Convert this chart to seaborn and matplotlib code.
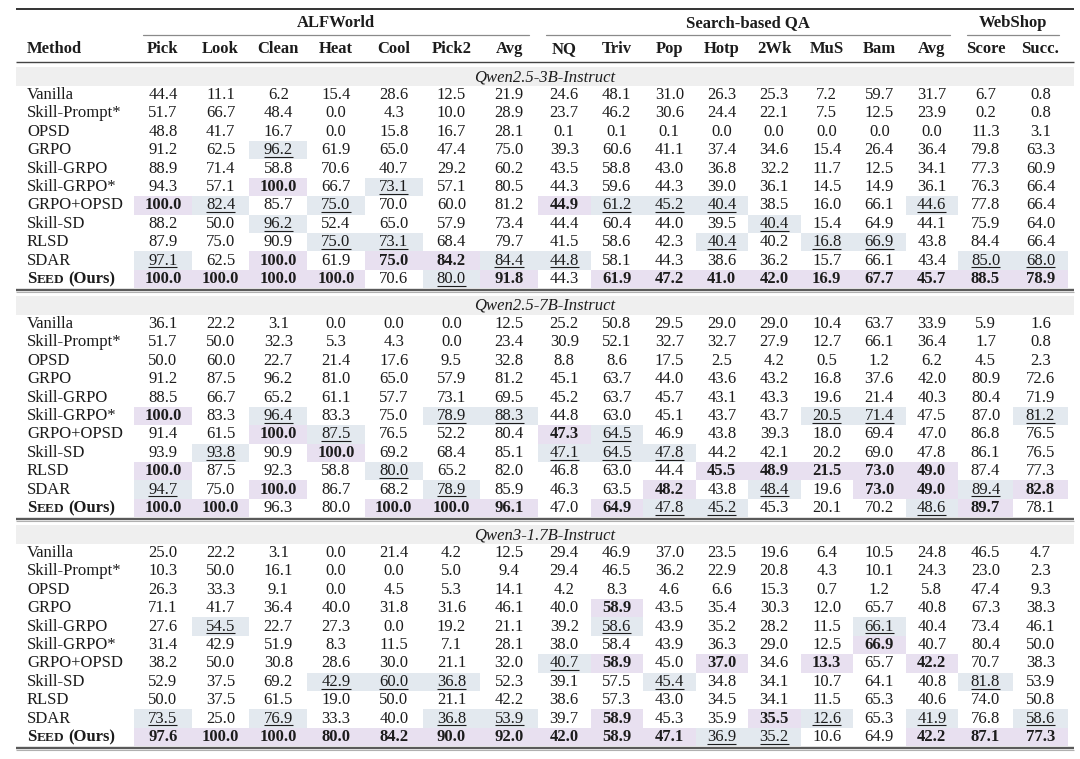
import numpy as np
import matplotlib
matplotlib.use("Agg")
import matplotlib.pyplot as plt
import matplotlib.transforms as mtransforms
from matplotlib.colors import ListedColormap
import seaborn as sns


# ──────────────────────────────────────────────
# Data
# ──────────────────────────────────────────────

methods = ["Vanilla", "Skill-Prompt*", "OPSD", "GRPO", "Skill-GRPO", "Skill-GRPO*",
           "GRPO+OPSD", "Skill-SD", "RLSD", "SDAR", "SEED (Ours)"]
group_names = ["ALFWorld", "Search-based QA", "WebShop"]
alf_cols = ["Pick", "Look", "Clean", "Heat", "Cool", "Pick2", "Avg"]
qa_cols = ["NQ", "Triv", "Pop", "Hotp", "2Wk", "MuS", "Bam", "Avg"]
shop_cols = ["Score", "Succ."]
models = ["Qwen2.5-3B-Instruct", "Qwen2.5-7B-Instruct", "Qwen3-1.7B-Instruct"]

qwen25_3b = [
    [44.4, 11.1, 6.2, 15.4, 28.6, 12.5, 21.9, 24.6, 48.1, 31.0, 26.3, 25.3, 7.2, 59.7, 31.7, 6.7, 0.8],
    [51.7, 66.7, 48.4, 0.0, 4.3, 10.0, 28.9, 23.7, 46.2, 30.6, 24.4, 22.1, 7.5, 12.5, 23.9, 0.2, 0.8],
    [48.8, 41.7, 16.7, 0.0, 15.8, 16.7, 28.1, 0.1, 0.1, 0.1, 0.0, 0.0, 0.0, 0.0, 0.0, 11.3, 3.1],
    [91.2, 62.5, 96.2, 61.9, 65.0, 47.4, 75.0, 39.3, 60.6, 41.1, 37.4, 34.6, 15.4, 26.4, 36.4, 79.8, 63.3],
    [88.9, 71.4, 58.8, 70.6, 40.7, 29.2, 60.2, 43.5, 58.8, 43.0, 36.8, 32.2, 11.7, 12.5, 34.1, 77.3, 60.9],
    [94.3, 57.1, 100.0, 66.7, 73.1, 57.1, 80.5, 44.3, 59.6, 44.3, 39.0, 36.1, 14.5, 14.9, 36.1, 76.3, 66.4],
    [100.0, 82.4, 85.7, 75.0, 70.0, 60.0, 81.2, 44.9, 61.2, 45.2, 40.4, 38.5, 16.0, 66.1, 44.6, 77.8, 66.4],
    [88.2, 50.0, 96.2, 52.4, 65.0, 57.9, 73.4, 44.4, 60.4, 44.0, 39.5, 40.4, 15.4, 64.9, 44.1, 75.9, 64.0],
    [87.9, 75.0, 90.9, 75.0, 73.1, 68.4, 79.7, 41.5, 58.6, 42.3, 40.4, 40.2, 16.8, 66.9, 43.8, 84.4, 66.4],
    [97.1, 62.5, 100.0, 61.9, 75.0, 84.2, 84.4, 44.8, 58.1, 44.3, 38.6, 36.2, 15.7, 66.1, 43.4, 85.0, 68.0],
    [100.0, 100.0, 100.0, 100.0, 70.6, 80.0, 91.8, 44.3, 61.9, 47.2, 41.0, 42.0, 16.9, 67.7, 45.7, 88.5, 78.9],
]
qwen25_7b = [
    [36.1, 22.2, 3.1, 0.0, 0.0, 0.0, 12.5, 25.2, 50.8, 29.5, 29.0, 29.0, 10.4, 63.7, 33.9, 5.9, 1.6],
    [51.7, 50.0, 32.3, 5.3, 4.3, 0.0, 23.4, 30.9, 52.1, 32.7, 32.7, 27.9, 12.7, 66.1, 36.4, 1.7, 0.8],
    [50.0, 60.0, 22.7, 21.4, 17.6, 9.5, 32.8, 8.8, 8.6, 17.5, 2.5, 4.2, 0.5, 1.2, 6.2, 4.5, 2.3],
    [91.2, 87.5, 96.2, 81.0, 65.0, 57.9, 81.2, 45.1, 63.7, 44.0, 43.6, 43.2, 16.8, 37.6, 42.0, 80.9, 72.6],
    [88.5, 66.7, 65.2, 61.1, 57.7, 73.1, 69.5, 45.2, 63.7, 45.7, 43.1, 43.3, 19.6, 21.4, 40.3, 80.4, 71.9],
    [100.0, 83.3, 96.4, 83.3, 75.0, 78.9, 88.3, 44.8, 63.0, 45.1, 43.7, 43.7, 20.5, 71.4, 47.5, 87.0, 81.2],
    [91.4, 61.5, 100.0, 87.5, 76.5, 52.2, 80.4, 47.3, 64.5, 46.9, 43.8, 39.3, 18.0, 69.4, 47.0, 86.8, 76.5],
    [93.9, 93.8, 90.9, 100.0, 69.2, 68.4, 85.1, 47.1, 64.5, 47.8, 44.2, 42.1, 20.2, 69.0, 47.8, 86.1, 76.5],
    [100.0, 87.5, 92.3, 58.8, 80.0, 65.2, 82.0, 46.8, 63.0, 44.4, 45.5, 48.9, 21.5, 73.0, 49.0, 87.4, 77.3],
    [94.7, 75.0, 100.0, 86.7, 68.2, 78.9, 85.9, 46.3, 63.5, 48.2, 43.8, 48.4, 19.6, 73.0, 49.0, 89.4, 82.8],
    [100.0, 100.0, 96.3, 80.0, 100.0, 100.0, 96.1, 47.0, 64.9, 47.8, 45.2, 45.3, 20.1, 70.2, 48.6, 89.7, 78.1],
]
qwen3_17b = [
    [25.0, 22.2, 3.1, 0.0, 21.4, 4.2, 12.5, 29.4, 46.9, 37.0, 23.5, 19.6, 6.4, 10.5, 24.8, 46.5, 4.7],
    [10.3, 50.0, 16.1, 0.0, 0.0, 5.0, 9.4, 29.4, 46.5, 36.2, 22.9, 20.8, 4.3, 10.1, 24.3, 23.0, 2.3],
    [26.3, 33.3, 9.1, 0.0, 4.5, 5.3, 14.1, 4.2, 8.3, 4.6, 6.6, 15.3, 0.7, 1.2, 5.8, 47.4, 9.3],
    [71.1, 41.7, 36.4, 40.0, 31.8, 31.6, 46.1, 40.0, 58.9, 43.5, 35.4, 30.3, 12.0, 65.7, 40.8, 67.3, 38.3],
    [27.6, 54.5, 22.7, 27.3, 0.0, 19.2, 21.1, 39.2, 58.6, 43.9, 35.2, 28.2, 11.5, 66.1, 40.4, 73.4, 46.1],
    [31.4, 42.9, 51.9, 8.3, 11.5, 7.1, 28.1, 38.0, 58.4, 43.9, 36.3, 29.0, 12.5, 66.9, 40.7, 80.4, 50.0],
    [38.2, 50.0, 30.8, 28.6, 30.0, 21.1, 32.0, 40.7, 58.9, 45.0, 37.0, 34.6, 13.3, 65.7, 42.2, 70.7, 38.3],
    [52.9, 37.5, 69.2, 42.9, 60.0, 36.8, 52.3, 39.1, 57.5, 45.4, 34.8, 34.1, 10.7, 64.1, 40.8, 81.8, 53.9],
    [50.0, 37.5, 61.5, 19.0, 50.0, 21.1, 42.2, 38.6, 57.3, 43.0, 34.5, 34.1, 11.5, 65.3, 40.6, 74.0, 50.8],
    [73.5, 25.0, 76.9, 33.3, 40.0, 36.8, 53.9, 39.7, 58.9, 45.3, 35.9, 35.5, 12.6, 65.3, 41.9, 76.8, 58.6],
    [97.6, 100.0, 100.0, 80.0, 84.2, 90.0, 92.0, 42.0, 58.9, 47.1, 36.9, 35.2, 10.6, 64.9, 42.2, 87.1, 77.3],
]

# b = best (bold, purple), s = second (underlined, blue); groups split by "|"
qwen25_3b_rank = [
    ".......|........|..", ".......|........|..", ".......|........|..",
    "..s....|........|..", ".......|........|..", "..b.s..|........|..",
    "bs.s...|bsss...s|..", "..s....|....s...|..", "...ss..|...s.ss.|..",
    "s.b.bbs|s.......|ss", "bbbb.sb|.bbbbbbb|bb",
]
qwen25_7b_rank = [
    ".......|........|..", ".......|........|..", ".......|........|..",
    ".......|........|..", ".......|........|..", "b.s..ss|.....ss.|.s",
    "..bs...|bs......|..", ".s.b...|sss.....|..", "b...s..|...bbbbb|..",
    "s.b..s.|..b.s.bb|sb", "bb..bbb|.bss...s|b.",
]
qwen3_17b_rank = [
    ".......|........|..", ".......|........|..", ".......|........|..",
    ".......|.b......|..", ".s.....|.s....s.|..", ".......|......b.|..",
    ".......|sb.b.b.b|..", "...sss.|..s.....|s.", ".......|........|..",
    "s.s..ss|.b..bs.s|.s", "bbbbbbb|bbbss..b|bb",
]

blocks = [qwen25_3b, qwen25_7b, qwen3_17b]
ranks = [qwen25_3b_rank, qwen25_7b_rank, qwen3_17b_rank]
group_cols = [alf_cols, qa_cols, shop_cols]


# ──────────────────────────────────────────────
# Layout / style
# ──────────────────────────────────────────────

sns.set_theme(style="white")
plt.rcParams["font.family"] = ["Liberation Serif", "DejaVu Serif"]

W, H = 1080, 759
FS = 12
TEXT = "#1c1c1c"
BEST = "#e8e0f0"
SECOND = "#e3e9ef"
BAND = "#efefef"
RULE = "#5a5a5a"
PITCH = 18.4
band_y = [77, 306, 535]
group_edges = [(134, 538), (538, 958), (958, 1068)]
LEFT, RIGHT = 16, 1074

fig = plt.figure(figsize=(W / 100, H / 100), dpi=100)
base = fig.add_axes([0, 0, 1, 1])
base.set_xlim(0, W)
base.set_ylim(H, 0)
base.set_axis_off()
renderer = fig.canvas.get_renderer()

cmap = ListedColormap(["white", SECOND, BEST])
code = {".": 0, "s": 1, "b": 2}

# rules of the table
base.hlines(9, LEFT, RIGHT, color="#333333", lw=1.4)
base.hlines(62, LEFT, RIGHT, color="#444444", lw=1.0)
base.text(27, 49, "Method", fontsize=FS, fontweight="bold", color=TEXT, ha="left", va="center")

underlines = []
start = 0
for g, cols in enumerate(group_cols):
    sl = slice(start, start + len(cols))
    start += len(cols)
    x0, x1 = group_edges[g]
    for k, block in enumerate(blocks):
        top = band_y[k] + 18 - PITCH / 2
        height = PITCH * len(methods)
        hax = fig.add_axes([x0 / W, 1 - (top + height) / H, (x1 - x0) / W, height / H])
        vals = np.array(block)[:, sl]
        rk = np.array([[code[c] for c in row.replace("|", "")] for row in ranks[k]])[:, sl]
        labels = np.vectorize(lambda v: f"{v:.1f}")(vals)
        sns.heatmap(rk, cmap=cmap, vmin=-0.5, vmax=2.5, annot=labels, fmt="",
                    cbar=False, xticklabels=False, yticklabels=False,
                    annot_kws=dict(fontsize=FS, color=TEXT), ax=hax)
        hax.set_axis_off()
        for t, r in zip(hax.texts, rk.flat):
            if r == 2:
                t.set_fontweight("bold")
            elif r == 1:
                underlines.append((hax, t))

        if k == 0:
            trans = mtransforms.blended_transform_factory(hax.transData, base.transData)
            n = len(cols)
            for j, c in enumerate(cols):
                base.text(j + 0.5, 49, c, fontsize=FS, fontweight="bold", color=TEXT,
                          ha="center", va="center", transform=trans)
            base.text(n / 2, 23, group_names[g], fontsize=FS, fontweight="bold",
                      color=TEXT, ha="center", va="center", transform=trans)
            base.plot([0.16, n - 0.16], [35, 35], color="#8a8a8a", lw=0.9, transform=trans)

# model bands, method names, block rules
for k, model in enumerate(models):
    b = band_y[k]
    base.fill_between([LEFT, RIGHT], b - 10, b + 8.8, color=BAND, lw=0, zorder=0)
    base.text((LEFT + RIGHT) / 2, b, model, fontsize=FS, style="italic", color=TEXT,
              ha="center", va="center")
    for i, m in enumerate(methods):
        y = b + 18 + PITCH * i
        if m.startswith("SEED"):
            x = 27
            for part, size, gap in (("S", FS, 0), ("EED", FS * 0.8, 0), ("(Ours)", FS, 4)):
                x += gap
                t = base.text(x, y + 3.9, part, fontsize=size, fontweight="bold",
                              color=TEXT, ha="left", va="baseline")
                bb = t.get_window_extent(renderer)
                x = base.transData.inverted().transform((bb.x1, bb.y0))[0]
        else:
            base.text(27, y, m, fontsize=FS, color=TEXT, ha="left", va="center")
    rule_y = b + 18 + PITCH * (len(methods) - 1) + 11
    base.hlines(rule_y, LEFT, RIGHT, color=RULE, lw=1.7)
    base.hlines(rule_y + 1.6, LEFT, RIGHT, color="#b0b0b0", lw=0.8)

# underline second-best values
fig.canvas.draw()
renderer = fig.canvas.get_renderer()
for hax, t in underlines:
    bb = t.get_window_extent(renderer)
    inv = hax.transData.inverted()
    xa = inv.transform((bb.x0, bb.y0))[0]
    xb = inv.transform((bb.x1, bb.y0))[0]
    y = t.get_position()[1] + 0.37
    hax.plot([xa, xb], [y, y], color=TEXT, lw=0.8, solid_capstyle="butt")

fig.savefig("out.png", dpi=100)
